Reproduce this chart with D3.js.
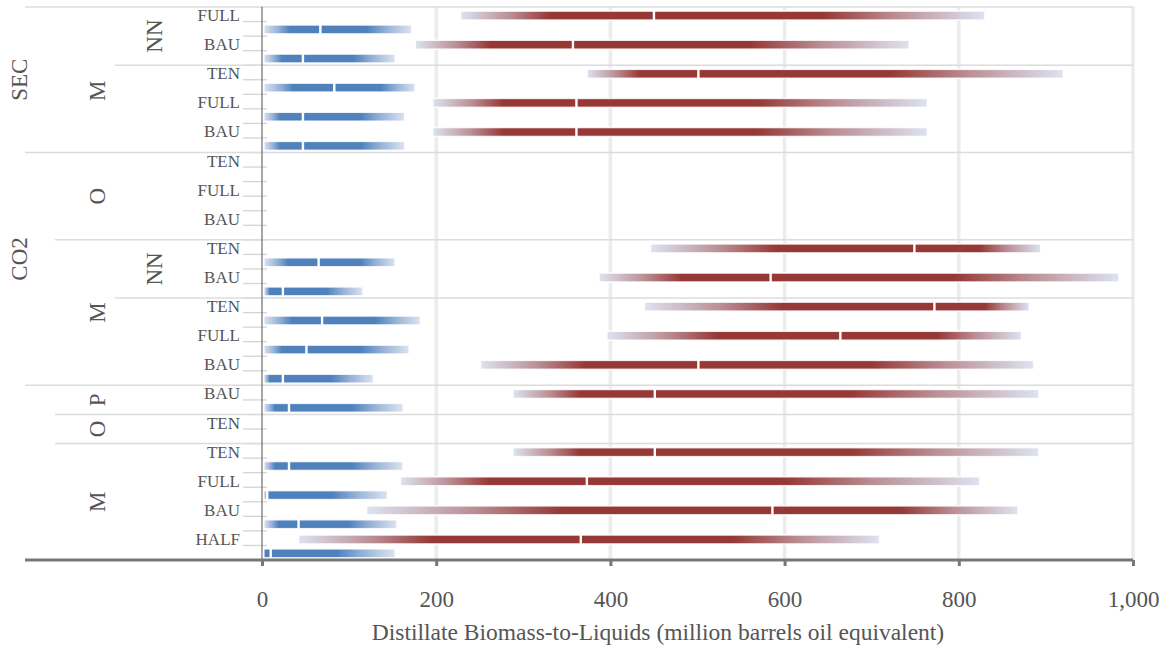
<!DOCTYPE html>
<html><head><meta charset="utf-8">
<script src="https://cdn.jsdelivr.net/npm/d3@7"></script>
<style>
body{margin:0;background:#fff}
text{font-family:"Liberation Serif","DejaVu Serif",serif;fill:#555}
</style>
</head><body><svg id="c" width="1168" height="649"></svg>
<script>
const level1 = ["SEC","SEC","SEC","SEC","SEC","CO2","CO2","CO2","CO2","CO2","CO2","CO2","CO2","","","","","",""];
const level2 = ["M","M","M","M","M","O","O","O","M","M","M","M","M","P","O","M","M","M","M"];
const level3 = ["NN","NN","","","","","","","NN","NN","","","","","","","","",""];
const scenarios = ["FULL","BAU","TEN","FULL","BAU","TEN","FULL","BAU","TEN","BAU","TEN","FULL","BAU","BAU","TEN","TEN","FULL","BAU","HALF"];
// each entry: [min, solid start, median, solid end, max]
const redStats = [
  [228,331,450,644,830],
  [176,262,357,560,743],
  [373,434,501,721,920],
  [196,277,361,568,764],
  [196,277,361,568,764],
  null,null,null,
  [446,591,749,824,894],
  [387,482,584,794,984],
  [439,598,772,830,881],
  [396,522,664,775,872],
  [251,371,501,700,886],
  [288,365,451,675,892],
  null,
  [288,365,451,675,892],
  [159,260,373,602,824],
  [120,344,586,733,868],
  [42,195,366,541,709]
];
const blueStats = [
  [2,32,67,120,172],
  [2,23,47,105,153],
  [2,36,83,136,176],
  [2,21,47,113,164],
  [2,21,47,113,164],
  null,null,null,
  [2,30,65,113,153],
  [2,9,24,74,116],
  [2,34,69,130,182],
  [2,23,51,114,169],
  [2,9,24,80,128],
  [2,15,31,103,162],
  null,
  [2,15,31,103,162],
  [2,6,6,80,144],
  [2,19,42,99,155],
  [2,3,10,86,153]
];
const xTicks = [0,200,400,600,800,1000];
const xTitle = "Distillate Biomass-to-Liquids (million barrels oil equivalent)";

const svg = d3.select("#c");
const x = d3.scaleLinear().domain([0,1000]).range([262,1133]);
const y = d3.scaleBand().domain(d3.range(scenarios.length)).range([7,560]);
const sub = d3.scaleBand().domain(["red","blue"]).range([0,y.bandwidth()]);
const colors = {red:"#963836", blue:"#4f81bd"};
const light = "#dde3f1";
const barH = 9;
const shift = {red:1.3, blue:0.6};

const defs = svg.append("defs");
const gGrid = svg.append("g");
xTicks.filter(d=>d>0).forEach(t=>{
  gGrid.append("line").attr("x1",x(t)).attr("x2",x(t)).attr("y1",6.7).attr("y2",y.range()[1])
    .attr("stroke","#ececec").attr("stroke-width",3.5);
});

// dividers
const levelX = [25,55,115];
const gDiv = svg.append("g");
scenarios.forEach((s,i)=>{
  let lx = null;
  if(i===0 || level1[i]!==level1[i-1]) lx = levelX[0];
  else if(level2[i]!==level2[i-1]) lx = levelX[1];
  else if(level3[i]!==level3[i-1]) lx = levelX[2];
  if(lx!==null){
    gDiv.append("line").attr("x1",lx).attr("x2",x(1000)).attr("y1",y(i)).attr("y2",y(i))
      .attr("stroke","#dcdcdc").attr("stroke-width",1.5);
  }
  ["red","blue"].forEach(k=>{
    const ty = y(i)+sub(k)+sub.bandwidth();
    gDiv.append("line").attr("x1",243).attr("x2",267).attr("y1",ty).attr("y2",ty)
      .attr("stroke","#d4d4d4").attr("stroke-width",1.3);
  });
});

// y axis line
svg.append("line").attr("x1",x(0)).attr("x2",x(0)).attr("y1",6.7).attr("y2",y.range()[1])
  .attr("stroke","#777").attr("stroke-width",1.3);

// bars
const gBars = svg.append("g");
function drawBar(stats,i,k){
  if(!stats) return;
  const [mn,lo,md,hi,mx] = stats;
  const id = "g"+k+i;
  const span = mx-mn;
  const gr = defs.append("linearGradient").attr("id",id).attr("gradientUnits","userSpaceOnUse")
    .attr("x1",x(mn)).attr("x2",x(mx)).attr("y1",0).attr("y2",0);
  const c = colors[k];
  const mid1 = d3.interpolateRgb(light,c)(0.5);
  gr.append("stop").attr("offset",0).attr("stop-color",light);
  gr.append("stop").attr("offset",((lo-mn)/span)*0.55).attr("stop-color",mid1);
  gr.append("stop").attr("offset",(lo-mn)/span).attr("stop-color",c);
  gr.append("stop").attr("offset",(hi-mn)/span).attr("stop-color",c);
  gr.append("stop").attr("offset",((hi-mn)+(mx-hi)*0.45)/span).attr("stop-color",mid1);
  gr.append("stop").attr("offset",1).attr("stop-color",light);
  const cy = y(i)+sub(k)+sub.bandwidth()/2+shift[k];
  gBars.append("rect").attr("x",x(mn)).attr("width",x(mx)-x(mn)).attr("y",cy-barH/2).attr("height",barH)
    .attr("fill",`url(#${id})`).attr("stroke","#fff").attr("stroke-opacity",0.85).attr("stroke-width",1.6);
  gBars.append("rect").attr("x",x(md)-1.2).attr("width",2.4).attr("y",cy-barH/2-0.5).attr("height",barH+1)
    .attr("fill","#fff");
}
scenarios.forEach((s,i)=>{ drawBar(redStats[i],i,"red"); drawBar(blueStats[i],i,"blue"); });

// scenario labels
svg.append("g").selectAll("text").data(scenarios).join("text")
  .attr("x",240).attr("y",(d,i)=>y(i)+sub("red")+sub.bandwidth()/2+shift.red)
  .attr("text-anchor","end").attr("dominant-baseline","central")
  .attr("font-size",17).text(d=>d);

// group labels
const levels = [level1,level2,level3];
const baseX = [27,105,162];
levels.forEach((arr,L)=>{
  let start = 0;
  for(let i=1;i<=arr.length;i++){
    const key = j=>levels.slice(0,L+1).map(a=>a[j]).join("|");
    if(i===arr.length || key(i)!==key(start)){
      const lab = arr[start];
      if(lab){
        const k = key(start);
        let cy = (y(start)+y(i-1)+y.bandwidth())/2;
        if(L===1 && k==="SEC|M") cy += 11;
        if(L===0 && k==="CO2") cy -= 10;
        svg.append("text").attr("transform",`translate(${baseX[L]},${cy}) rotate(-90)`)
          .attr("text-anchor","middle").attr("font-size",23).text(lab);
      }
      start = i;
    }
  }
});

// x axis
const axisY = 560;
svg.append("line").attr("x1",25).attr("x2",x(1000)).attr("y1",axisY).attr("y2",axisY)
  .attr("stroke","#777").attr("stroke-width",3);
const ax = svg.append("g").attr("transform",`translate(0,${axisY})`)
  .call(d3.axisBottom(x).tickValues(xTicks).tickFormat(d3.format(",")).tickSize(6).tickSizeOuter(0).tickPadding(25));
ax.select(".domain").remove();
ax.selectAll(".tick line").attr("stroke","#777").attr("stroke-width",3);
ax.selectAll(".tick text").attr("font-size",23).attr("fill","#555")
  .style("font-family",'"Liberation Serif","DejaVu Serif",serif');
svg.append("text").attr("x",658).attr("y",640).attr("text-anchor","middle").attr("font-size",23.5).text(xTitle);
</script>
</body></html>
